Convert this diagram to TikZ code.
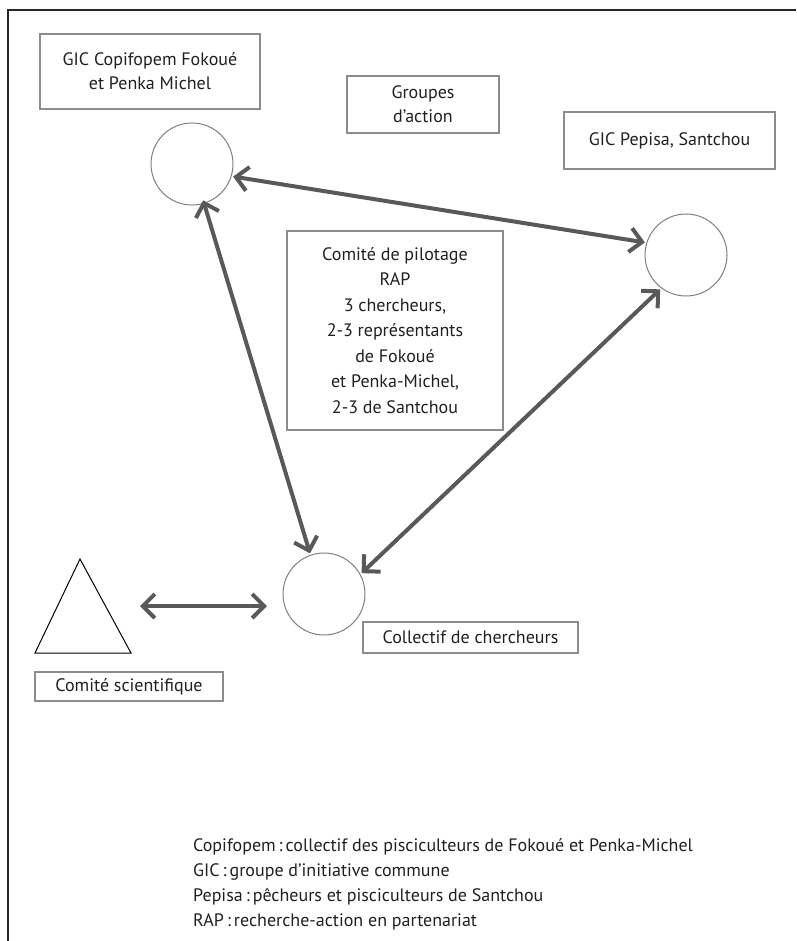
\documentclass[tikz,border=0pt]{standalone}
\usepackage{fontspec}
\setmainfont{PT Sans}
\usetikzlibrary{arrows.meta,positioning,calc}
\definecolor{txt}{HTML}{231F20}
\definecolor{boxgray}{HTML}{8C8C8C}
\definecolor{ringgray}{HTML}{7F7F7F}
\definecolor{arrowgray}{HTML}{595959}

\begin{document}
\begin{tikzpicture}
[x=1pt,y=-1pt,
every node/.style={text=txt,font=\fontsize{18}{24}\selectfont},
box/.style={draw=boxgray,line width=1.2pt,inner sep=0pt,align=center},
ring/.style={circle,draw=ringgray,line width=1pt,minimum size=82pt,inner sep=0pt,outer sep=2pt},
link/.style={draw=arrowgray,line width=4pt,arrows={Straight Barb[length=12pt,width=24pt]-Straight Barb[length=12pt,width=24pt]}}]
\useasboundingbox (0,0) rectangle (796,941);
\draw[line width=1.5pt,black!85] (8,941) -- (8,10) -- (796,10);
% labels
\node[box,minimum width=220pt,minimum height=75pt] (fok) at (150,71.5) {GIC Copifopem Fokoué\\et Penka Michel};
\node[box,minimum width=152pt,minimum height=57pt] (grp) at (423,104.5) {Groupes\\d’action};
\node[box,minimum width=211pt,minimum height=57pt] (pep) at (669.5,140.5) {GIC Pepisa, Santchou};
\node[box,minimum width=216pt,minimum height=199pt,font=\fontsize{18}{25.5}\selectfont] (pil) at (395,330.5)
  {Comité de pilotage\\RAP\\3 chercheurs,\\2-3 représentants\\de Fokoué\\et Penka-Michel,\\2-3 de Santchou};
\node[box,minimum width=215pt,minimum height=31pt] (col) at (470.5,637.5) {Collectif de chercheurs};
\node[box,minimum width=188pt,minimum height=29pt] (sci) at (129,686.5) {Comité scientifique};
% groups
\node[ring] (a) at (192,164) {};
\node[ring] (b) at (686,255) {};
\node[ring] (c) at (324,594) {};
\draw[line width=1pt,black] (80,559) -- (131,653) -- (35,653) -- cycle;
\coordinate (t1) at (140,606);
\coordinate (t2) at (267,606);
\draw[link] (a.-17) -- (b.163);
\draw[link,shorten <=-5pt] (a.-73) -- (c.109);
\draw[link] (b.-127) -- (c.29);
\draw[link] (t1) -- (t2);
% legend
\node[anchor=base west,inner sep=0pt] (l1) at (193,851) {Copifopem\,:\,collectif des pisciculteurs de Fokoué et Penka-Michel};
\node[anchor=base west,inner sep=0pt] (l2) at (193,876) {GIC\,:\,groupe d’initiative commune};
\node[anchor=base west,inner sep=0pt] (l3) at (193,901) {Pepisa\,:\,pêcheurs et pisciculteurs de Santchou};
\node[anchor=base west,inner sep=0pt] (l4) at (193,926) {RAP\,:\,recherche-action en partenariat};
\end{tikzpicture}
\end{document}
